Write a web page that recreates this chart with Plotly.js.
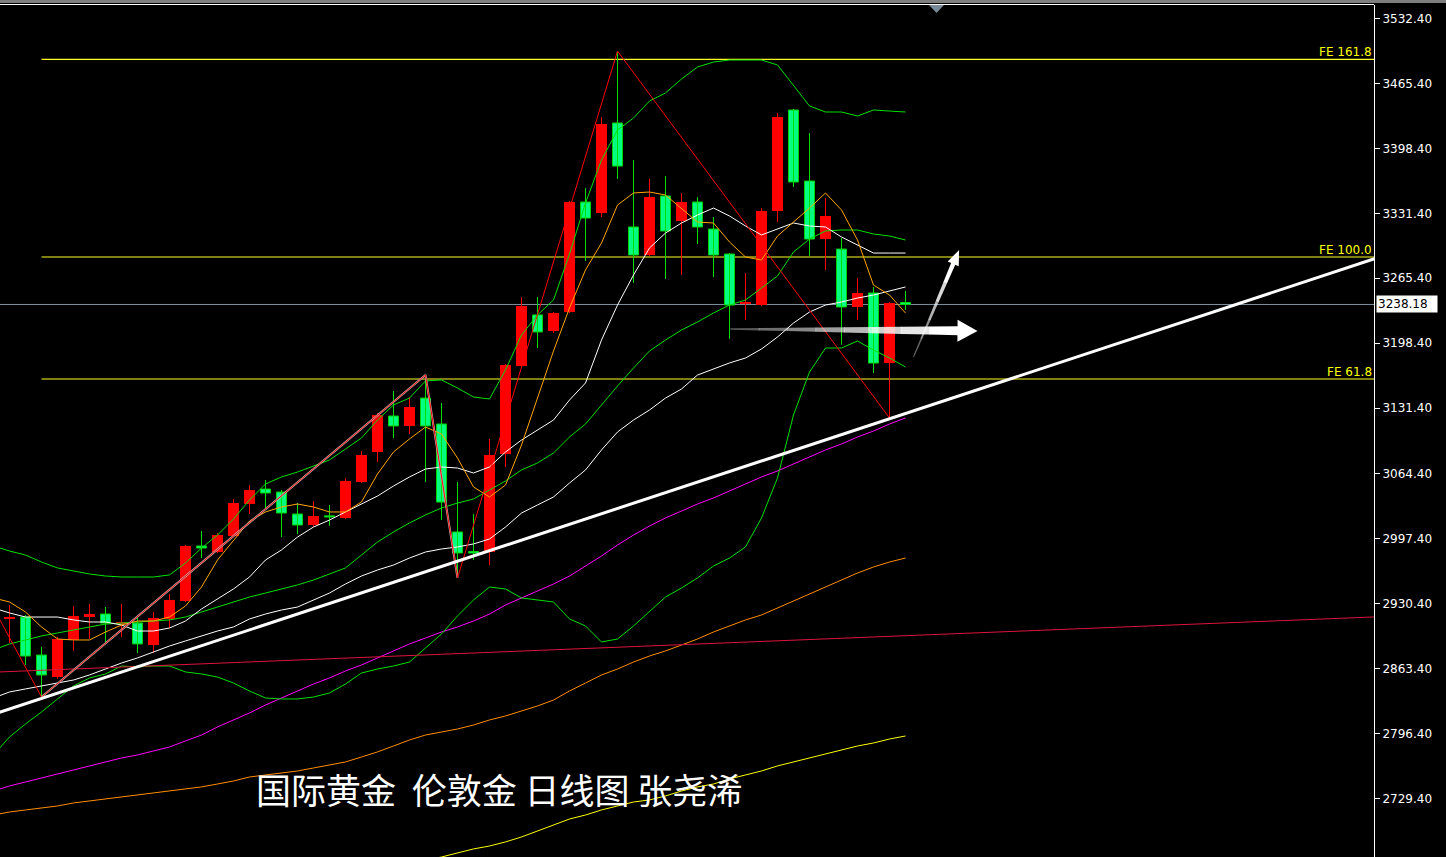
<!DOCTYPE html>
<html><head><meta charset="utf-8">
<script src="https://cdn.plot.ly/plotly-3.0.1.min.js"></script>
<style>html,body{margin:0;padding:0;background:#000;overflow:hidden}#chart{width:1446px;height:857px}</style>
</head><body><div id="chart"></div>
<script>
// ---------- candle data (daily OHLC, index 0..56) ----------
const opens  = [2914.6,2916.6,2877.5,2854.9,2893.0,2916.6,2919.7,2909.4,2910.4,2887.8,2914.6,2933.1,2989.7,2983.5,2999.9,3032.9,3048.3,3045.2,3022.6,3011.3,3020.5,3018.5,3055.5,3086.4,3123.4,3113.2,3141.9,3115.2,3004.1,2984.0,2983.5,3084.3,3174.9,3227.4,3210.9,3230.4,3343.6,3332.3,3424.9,3317.9,3289.1,3349.8,3324.0,3343.6,3315.8,3290.1,3238.7,3237.6,3334.3,3438.3,3365.2,3305.5,3295.2,3235.6,3250.0,3177.9,3240.2];
const highs  = [2929.0,2918.7,2885.8,2896.1,2927.9,2930.0,2926.9,2930.0,2915.6,2921.8,2940.3,2990.7,3005.1,3003.0,3038.0,3052.4,3057.6,3047.3,3033.9,3036.0,3031.9,3059.7,3087.4,3126.5,3149.1,3143.0,3165.6,3136.8,3055.5,3022.6,3099.8,3176.9,3245.9,3245.9,3230.4,3344.6,3358.0,3431.1,3498.9,3386.8,3367.3,3370.4,3352.9,3348.7,3328.2,3291.1,3270.6,3337.4,3435.2,3439.3,3414.6,3347.7,3306.6,3265.4,3256.1,3240.7,3252.0];
const lows   = [2890.0,2867.3,2834.3,2853.0,2881.7,2894.0,2889.9,2896.1,2879.6,2879.6,2905.3,2932.1,2977.3,2982.5,2999.0,3022.6,3026.7,2998.9,3002.0,3009.2,3010.3,3017.5,3054.5,3076.1,3100.8,3104.9,3055.5,3016.4,2956.8,2975.3,2970.1,3070.9,3173.9,3193.4,3208.8,3229.4,3282.9,3328.2,3367.3,3260.3,3288.1,3264.4,3268.5,3300.4,3266.4,3202.7,3222.2,3236.6,3323.0,3359.0,3288.1,3273.6,3196.8,3222.2,3167.7,3121.4,3232.5];
const closes = [2916.6,2876.5,2857.0,2894.0,2917.7,2919.7,2910.4,2911.5,2888.9,2915.6,2934.1,2989.7,2987.6,3001.0,3033.9,3047.3,3044.2,3023.6,3011.3,3020.5,3019.5,3056.6,3083.3,3124.5,3113.2,3132.7,3113.2,3034.9,2982.5,2982.5,3083.3,3175.9,3236.6,3209.9,3229.4,3343.6,3327.1,3423.9,3380.6,3289.1,3348.7,3313.8,3343.6,3317.9,3289.1,3237.6,3240.7,3334.3,3431.1,3364.2,3305.5,3329.2,3235.6,3250.0,3177.9,3239.7,3238.18];

// ---------- indicator lines, values at bar index -1..56 ----------
const maX = Array.from({length: 58}, (_, k) => k - 1);
const maOrange = [2936.2,2932.1,2921.8,2906.4,2894.0,2893.0,2893.0,2901.2,2908.4,2912.5,2912.5,2916.6,2928.0,2947.5,2975.3,2995.9,3015.4,3024.7,3029.8,3032.9,3029.8,3024.7,3024.7,3035.0,3063.8,3086.4,3099.8,3112.1,3104.9,3080.2,3050.4,3040.1,3052.4,3093.6,3142.0,3190.3,3234.6,3273.7,3301.4,3340.5,3352.9,3353.9,3350.8,3337.4,3323.0,3322.0,3302.5,3287.0,3283.9,3308.6,3323.0,3337.4,3352.9,3335.4,3304.5,3258.2,3247.9,3229.4];
const maWhiteA = [2925.9,2920.8,2916.6,2916.6,2916.6,2913.6,2911.5,2911.5,2908.4,2902.2,2902.2,2905.3,2912.5,2924.9,2935.2,2945.5,2957.8,2975.3,2985.6,2998.9,3009.2,3016.4,3024.7,3032.9,3041.1,3051.4,3060.7,3068.9,3071.0,3069.9,3064.8,3071.0,3086.4,3098.7,3109.0,3119.3,3139.9,3157.4,3201.6,3237.6,3268.5,3296.3,3311.7,3322.0,3330.2,3337.4,3329.2,3318.9,3309.7,3315.8,3322.0,3318.9,3317.9,3307.6,3299.4,3291.1,3291.1,3291.1];
const maWhiteB = [2833.3,2839.5,2842.6,2845.7,2848.7,2851.8,2857.0,2863.1,2869.3,2874.5,2880.6,2886.8,2892.0,2897.1,2902.2,2906.4,2914.6,2919.7,2923.8,2926.9,2934.1,2941.3,2950.6,2958.8,2965.0,2970.1,2977.3,2983.5,2986.6,2988.7,2991.8,2996.9,3009.2,3023.6,3031.9,3040.1,3054.5,3067.9,3088.5,3107.0,3119.3,3129.6,3141.9,3151.2,3165.6,3171.8,3178.0,3183.1,3192.4,3204.7,3219.1,3230.4,3237.6,3240.7,3244.8,3247.9,3252.0,3256.2];
const maGreen = [2882.7,2888.9,2893.0,2897.1,2900.2,2903.3,2906.4,2909.4,2910.4,2911.5,2912.5,2913.6,2916.6,2921.8,2926.9,2932.1,2937.2,2941.3,2945.5,2949.6,2954.7,2960.9,2967.1,2980.4,2993.8,3004.1,3013.4,3021.6,3028.8,3033.9,3038.0,3047.3,3056.6,3067.9,3075.1,3085.4,3101.8,3115.2,3134.8,3154.3,3172.8,3190.3,3201.6,3211.9,3220.2,3229.4,3237.6,3242.8,3255.1,3267.5,3292.2,3305.5,3313.8,3314.8,3314.8,3310.7,3308.6,3304.5];
const bandUpper = [2989.7,2984.5,2980.4,2973.2,2967.1,2964.0,2960.9,2958.8,2957.8,2957.8,2957.8,2959.9,2972.2,2987.6,3001.0,3017.5,3037.0,3053.5,3060.7,3065.8,3072.0,3078.2,3089.5,3100.8,3119.3,3134.8,3141.9,3159.5,3160.5,3152.2,3143.0,3140.9,3170.8,3206.8,3227.4,3242.8,3290.1,3342.6,3386.8,3417.7,3430.0,3447.5,3455.8,3470.2,3482.5,3487.6,3489.7,3489.7,3489.7,3484.6,3464.0,3442.4,3436.2,3436.2,3432.1,3438.3,3437.2,3436.2];
const bandLower = [2774.7,2793.2,2806.6,2818.9,2832.3,2845.7,2853.9,2858.0,2866.2,2865.2,2866.2,2866.2,2860.1,2858.0,2854.9,2848.7,2840.5,2833.3,2832.3,2832.3,2834.3,2838.5,2847.7,2859.0,2863.1,2866.2,2870.3,2884.7,2899.2,2917.7,2934.1,2947.5,2945.5,2936.2,2934.1,2932.1,2914.6,2907.4,2890.9,2894.0,2907.4,2921.8,2937.2,2946.5,2956.8,2969.1,2977.3,2988.7,3018.5,3059.7,3124.5,3168.7,3193.4,3193.4,3200.6,3191.3,3183.1,3173.9];
const maMagenta = [2737.6,2742.8,2746.9,2751.0,2755.1,2759.2,2763.4,2767.5,2771.6,2774.7,2778.8,2782.9,2789.1,2795.2,2803.5,2810.7,2817.9,2826.1,2833.3,2840.5,2847.7,2853.9,2861.1,2867.3,2874.5,2881.7,2888.9,2895.0,2901.2,2906.4,2912.5,2919.7,2929.0,2936.2,2943.4,2950.6,2958.8,2969.1,2979.4,2990.7,3001.0,3010.3,3018.5,3025.7,3032.9,3039.1,3046.3,3053.5,3060.7,3066.9,3074.1,3081.3,3088.5,3094.6,3101.8,3108.0,3115.2,3121.4];
const maDarkOrange = [2712.9,2716.0,2718.1,2720.1,2722.2,2725.3,2727.3,2729.4,2731.5,2733.5,2735.6,2737.6,2739.7,2741.8,2744.8,2747.9,2752.0,2754.1,2756.1,2758.2,2761.3,2764.4,2767.5,2772.6,2777.8,2783.9,2790.1,2795.2,2798.3,2801.4,2805.5,2810.7,2814.8,2819.9,2825.1,2831.2,2840.5,2848.7,2857.0,2863.1,2870.3,2876.5,2881.7,2887.8,2894.0,2901.2,2907.4,2913.6,2918.7,2925.9,2933.1,2940.3,2947.5,2954.7,2961.9,2968.1,2973.2,2977.3];
const maYellow = [null,null,null,null,null,null,null,null,null,null,null,null,null,null,null,null,null,null,null,null,null,null,null,null,null,null,2660.5,2666.6,2669.7,2673.8,2678.0,2681.0,2685.2,2690.3,2696.5,2702.6,2708.8,2712.9,2718.1,2722.2,2726.3,2728.4,2732.5,2737.6,2741.8,2744.8,2750.0,2754.1,2758.2,2763.4,2767.5,2771.6,2775.7,2779.8,2783.9,2787.0,2791.1,2794.2];

// ---------- drawing objects ----------
const zigzagX = [-1, 2, 26, 28, 38, 55];
const zigzagY = [2925.9, 2834.3, 3165.6, 2956.8, 3498.9, 3121.4];
const trendWhiteX = [2, 55];
const trendWhiteY = [2832.8, 3120.6];
const trendRedX = [0, 56];
const trendRedY = [2860.5, 2897.4];
const feLevels = [3161.5, 3287.0, 3490.4];
const feLabels = ['FE 61.8', 'FE 100.0', 'FE 161.8'];
const feStartX = 2;
const lastPrice = 3238.18;
const tickVals = [3532.4,3465.4,3398.4,3331.4,3265.4,3198.4,3131.4,3064.4,2997.4,2930.4,2863.4,2796.4,2729.4];
const tickText = ['3532.40','3465.40','3398.40','3331.40','3265.40','3198.40','3131.40','3064.40','2997.40','2930.40','2863.40','2796.40','2729.40'];
const captionText = '国际黄金\u00a0\u00a0伦敦金 日线图 张尧浠';

// ---------- geometry ----------
const X0 = -0.59375, X1 = 85.28125, Y0 = 2669.7, Y1 = 3546.3;
const PW = 1374, PH = 852, TOP = 5;
function toPx(x, y) { return [(x - X0) / (X1 - X0) * PW, TOP + (Y1 - y) / (Y1 - Y0) * PH]; }
function toData(px, py) { return [X0 + px / PW * (X1 - X0), Y1 - (py - TOP) / PH * (Y1 - Y0)]; }

const idx = opens.map((_, i) => i);
const upIds = idx.filter(i => closes[i] >= opens[i]);
const dnIds = idx.filter(i => closes[i] < opens[i]);

function wick(ids, color) {
  return {type: 'scatter', mode: 'lines', x: ids.flatMap(i => [i, i, null]),
    y: ids.flatMap(i => [lows[i], highs[i], null]), line: {color: color, width: 1},
    hoverinfo: 'skip', showlegend: false};
}
function body(ids, fill, lineColor, lw, w) {
  return {type: 'bar', x: ids, base: ids.map(i => Math.min(opens[i], closes[i])),
    y: ids.map(i => Math.max(Math.abs(closes[i] - opens[i]), 1.2)), width: w,
    marker: {color: fill, line: {color: lineColor, width: lw}}, hoverinfo: 'skip', showlegend: false};
}
function line(x, y, color, width) {
  return {type: 'scatter', mode: 'lines', x: x, y: y, line: {color: color, width: width || 1},
    hoverinfo: 'skip', showlegend: false, connectgaps: false};
}
function extend(xs, ys, xa, xb) {
  const s = (ys[1] - ys[0]) / (xs[1] - xs[0]);
  return [[xa, xb], [ys[0] + s * (xa - xs[0]), ys[0] + s * (xb - xs[0])]];
}
const tw = extend(trendWhiteX, trendWhiteY, X0 - 1, X1 + 1);
const tr = extend(trendRedX, trendRedY, X0 - 1, X1 + 1);

const traces = [
  wick(upIds, '#ff0000'),
  wick(dnIds, '#00e000'),
  body(upIds, '#ff0000', '#ff0000', 0, 0.6875),
  body(dnIds, '#00ff80', '#00d000', 1, 0.625),
  line(maX, maYellow, '#ffff00'),
  line(maX, maDarkOrange, '#ff8c00'),
  line(maX, maMagenta, '#ff00ff'),
  line(maX, bandLower, '#00e000'),
  line(maX, bandUpper, '#00e000'),
  line(maX, maGreen, '#00e000'),
  line(maX, maWhiteB, '#ffffff'),
  line(maX, maWhiteA, '#ffffff'),
  line(maX, maOrange, '#ffa500'),
  line(tr[0], tr[1], '#dc143c', 1),
  line(zigzagX.slice(1, 4), zigzagY.slice(1, 4), '#b8b8b8', 2),
  line(zigzagX, zigzagY, '#ff0000', 1),
  line(tw[0], tw[1], '#ffffff', 3)
];

// ---------- arrows (shape paths built in pixel space) ----------
function arrowPaths(from, to, w0, w1, headLen, headHalf, segs) {
  const a = toPx(from[0], from[1]), b = toPx(to[0], to[1]);
  const dx = b[0] - a[0], dy = b[1] - a[1], L = Math.hypot(dx, dy);
  const ux = dx / L, uy = dy / L, nx = -uy, ny = ux;
  const shaftLen = L - headLen;
  const out = [];
  function P(px, py) { const d = toData(px, py); return d[0] + ',' + d[1]; }
  for (let k = 0; k < segs; k++) {
    const t0 = k / segs, t1 = (k + 1) / segs;
    const wa = (w0 + (w1 - w0) * t0) / 2, wb = (w0 + (w1 - w0) * t1) / 2;
    const ax = a[0] + ux * shaftLen * t0, ay = a[1] + uy * shaftLen * t0;
    const ext = (k === segs - 1 ? 1 : 0.6);
    const bx = a[0] + ux * (shaftLen * t1 + ext), by = a[1] + uy * (shaftLen * t1 + ext);
    const path = 'M' + P(ax + nx * wa, ay + ny * wa) + ' L' + P(bx + nx * wb, by + ny * wb) +
      ' L' + P(bx - nx * wb, by - ny * wb) + ' L' + P(ax - nx * wa, ay - ny * wa) + ' Z';
    out.push({type: 'path', xref: 'x', yref: 'y', path: path, fillcolor: 'rgba(255,255,255,' + (0.25 + 0.75 * t1).toFixed(3) + ')', line: {width: 0}, layer: 'above'});
  }
  const hx = a[0] + ux * shaftLen, hy = a[1] + uy * shaftLen;
  const head = 'M' + P(b[0], b[1]) + ' L' + P(hx + nx * headHalf, hy + ny * headHalf) + ' L' + P(hx - nx * headHalf, hy - ny * headHalf) + ' Z';
  out.push({type: 'path', xref: 'x', yref: 'y', path: head, fillcolor: '#ffffff', line: {width: 0}, layer: 'above'});
  return out;
}
const arrowSpecs = [
  {from: [45.06, 3213.0], to: [60.5, 3210.9], w0: 1.5, w1: 9, headLen: 20, headHalf: 11, segs: 8},
  {from: [56.5, 3184.1], to: [59.35, 3294.2], w0: 1, w1: 4.5, headLen: 15, headHalf: 6, segs: 5}
];

const shapes = [];
feLevels.forEach(v => shapes.push({type: 'line', xref: 'x', yref: 'y', x0: feStartX, x1: X1, y0: v, y1: v, line: {color: '#ffff20', width: 1.2}, layer: 'below'}));
shapes.push({type: 'line', xref: 'x', yref: 'y', x0: X0, x1: X1, y0: lastPrice, y1: lastPrice, line: {color: '#8090a0', width: 1}, layer: 'below'});
arrowSpecs.forEach(s => arrowPaths(s.from, s.to, s.w0, s.w1, s.headLen, s.headHalf, s.segs).forEach(p => shapes.push(p)));
// window chrome at top
shapes.push({type: 'rect', xref: 'paper', yref: 'paper', x0: 0, x1: 1446 / PW, y0: 1 + 2 / PH, y1: 1 + 5 / PH, fillcolor: '#7f7f7f', line: {width: 0}, layer: 'above'});
shapes.push({type: 'line', xref: 'paper', yref: 'paper', x0: 0, x1: 1, y0: 1 + 0.5 / PH, y1: 1 + 0.5 / PH, line: {color: '#ffffff', width: 1}, layer: 'above'});
shapes.push({type: 'path', xref: 'paper', yref: 'paper', path: 'M' + (929 / PW) + ',1 L' + (944 / PW) + ',1 L' + (936.5 / PW) + ',' + (1 - 8 / PH) + ' Z', fillcolor: '#778899', line: {width: 0}, layer: 'above'});

const annotations = [];
feLevels.forEach((v, k) => annotations.push({xref: 'paper', yref: 'y', x: 1, y: v, xanchor: 'right', yanchor: 'bottom', xshift: -1, yshift: -1,
  text: feLabels[k], showarrow: false, font: {family: 'DejaVu Sans', size: 12, color: '#ffff00'}, borderpad: 0}));
annotations.push({xref: 'paper', yref: 'y', x: 1376 / PW, y: lastPrice, xanchor: 'left', yanchor: 'middle', text: lastPrice.toFixed(2),
  showarrow: false, bgcolor: '#ffffff', font: {family: 'DejaVu Sans', size: 12, color: '#000000'}, borderpad: 1, width: 58, align: 'left'});
annotations.push({xref: 'paper', yref: 'paper', x: 254 / PW, y: (857 - 788) / PH, xanchor: 'left', yanchor: 'middle', text: captionText,
  showarrow: false, font: {family: 'Noto Sans CJK SC', size: 35, color: '#ffffff'}});

const layout = {
  width: 1446, height: 857,
  margin: {l: 0, r: 72, t: 5, b: 0, pad: 0},
  paper_bgcolor: '#000000', plot_bgcolor: '#000000',
  barmode: 'overlay', showlegend: false, hovermode: false,
  xaxis: {range: [X0, X1], visible: false, showgrid: false, zeroline: false},
  yaxis: {range: [Y0, Y1], side: 'right', tickvals: tickVals, ticktext: tickText, ticks: 'outside', ticklen: 5,
    tickwidth: 1, tickcolor: '#ffffff', showline: true, linecolor: '#ffffff', linewidth: 1, showgrid: false, zeroline: false,
    tickfont: {family: 'DejaVu Sans', size: 12, color: '#ffffff'}},
  shapes: shapes, annotations: annotations
};
Plotly.newPlot('chart', traces, layout, {displayModeBar: false, staticPlot: true});
</script></body></html>
